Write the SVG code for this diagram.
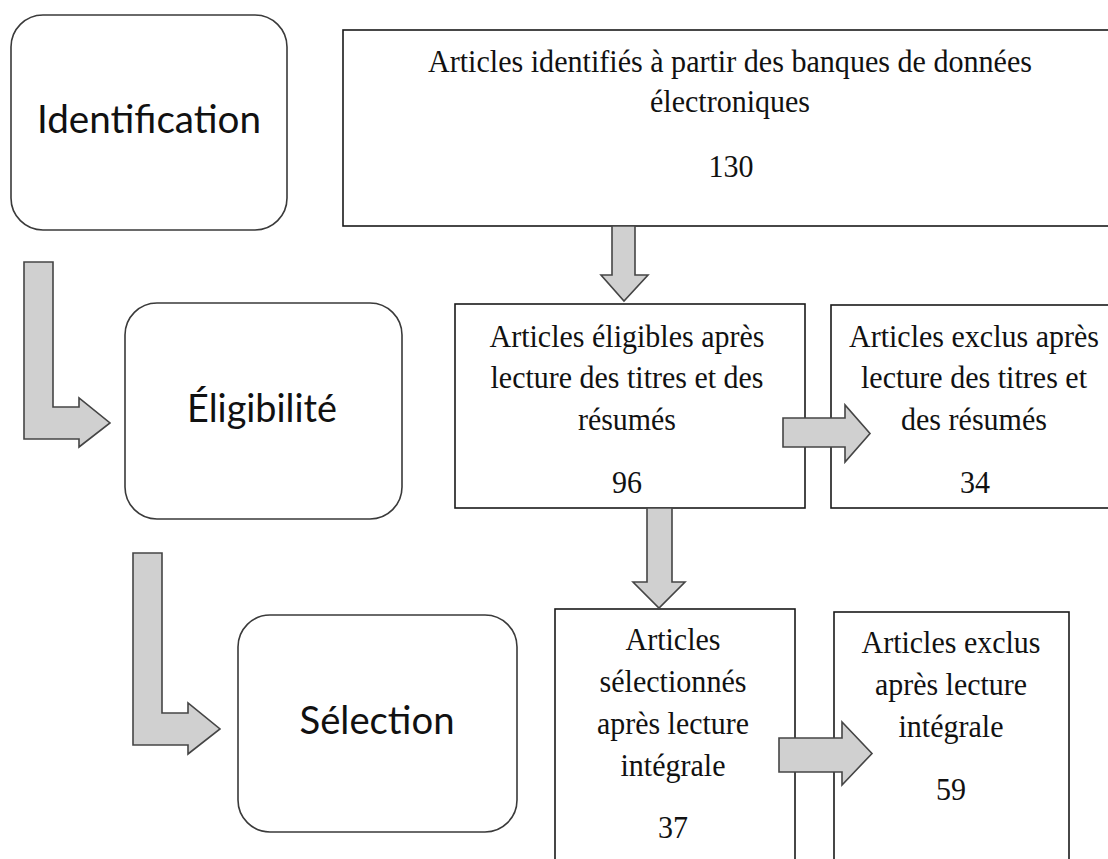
<svg xmlns="http://www.w3.org/2000/svg" width="1108" height="859" viewBox="0 0 1108 859">
<style>
.bg{fill:#ffffff}
.phase{fill:#ffffff;stroke:#3a3a3a;stroke-width:1.6}
.box{fill:#ffffff;stroke:#1a1a1a;stroke-width:1.6}
.arrow{fill:#d0d0d0;stroke:#454545;stroke-width:1.6;stroke-linejoin:miter}
.lbl{font-family:"Lato","Open Sans",sans-serif;font-size:39px;fill:#111111;text-anchor:middle}
.t{font-family:"Liberation Serif","Times New Roman",serif;font-size:32px;fill:#111111;text-anchor:middle}
</style>
<rect class="bg" x="0" y="0" width="1108" height="859"/>

<g id="identification">
  <rect class="phase" x="11" y="15" width="276" height="215" rx="32" ry="32"/>
  <text class="lbl" x="149" y="133" textLength="224" lengthAdjust="spacingAndGlyphs">Identification</text>
</g>

<g id="eligibilite">
  <rect class="phase" x="125" y="303" width="277" height="216" rx="32" ry="32"/>
  <text class="lbl" x="262" y="422" textLength="150" lengthAdjust="spacingAndGlyphs">Éligibilité</text>
</g>

<g id="selection">
  <rect class="phase" x="238" y="615" width="279" height="217" rx="32" ry="32"/>
  <text class="lbl" x="377" y="734" textLength="155" lengthAdjust="spacingAndGlyphs">Sélection</text>
</g>

<g id="identifies">
  <rect class="box" x="343" y="30" width="780" height="196"/>
  <text class="t" x="730" y="72" textLength="604" lengthAdjust="spacingAndGlyphs">Articles identifiés à partir des banques de données</text>
  <text class="t" x="730" y="112" textLength="160" lengthAdjust="spacingAndGlyphs">électroniques</text>
  <text class="t" x="731" y="177" textLength="45" lengthAdjust="spacingAndGlyphs">130</text>
</g>

<g id="eligibles">
  <rect class="box" x="455" y="304" width="350" height="204"/>
  <text class="t" x="627" y="347" textLength="275" lengthAdjust="spacingAndGlyphs">Articles éligibles après</text>
  <text class="t" x="627" y="388" textLength="273" lengthAdjust="spacingAndGlyphs">lecture des titres et des</text>
  <text class="t" x="627" y="430" textLength="98" lengthAdjust="spacingAndGlyphs">résumés</text>
  <text class="t" x="627" y="493" textLength="30" lengthAdjust="spacingAndGlyphs">96</text>
</g>

<g id="exclus1">
  <rect class="box" x="831" y="305" width="290" height="203"/>
  <text class="t" x="974" y="347" textLength="250" lengthAdjust="spacingAndGlyphs">Articles exclus après</text>
  <text class="t" x="974" y="388" textLength="226" lengthAdjust="spacingAndGlyphs">lecture des titres et</text>
  <text class="t" x="974" y="430" textLength="146" lengthAdjust="spacingAndGlyphs">des résumés</text>
  <text class="t" x="975" y="493" textLength="30" lengthAdjust="spacingAndGlyphs">34</text>
</g>

<g id="selectionnes">
  <rect class="box" x="555" y="609" width="240" height="270"/>
  <text class="t" x="673" y="650" textLength="95" lengthAdjust="spacingAndGlyphs">Articles</text>
  <text class="t" x="673" y="692" textLength="147" lengthAdjust="spacingAndGlyphs">sélectionnés</text>
  <text class="t" x="673" y="734" textLength="152" lengthAdjust="spacingAndGlyphs">après lecture</text>
  <text class="t" x="673" y="776" textLength="105" lengthAdjust="spacingAndGlyphs">intégrale</text>
  <text class="t" x="673" y="838" textLength="30" lengthAdjust="spacingAndGlyphs">37</text>
</g>

<g id="exclus2">
  <rect class="box" x="834" y="612" width="235" height="270"/>
  <text class="t" x="951" y="653" textLength="179" lengthAdjust="spacingAndGlyphs">Articles exclus</text>
  <text class="t" x="951" y="695" textLength="152" lengthAdjust="spacingAndGlyphs">après lecture</text>
  <text class="t" x="951" y="737" textLength="105" lengthAdjust="spacingAndGlyphs">intégrale</text>
  <text class="t" x="951" y="800" textLength="30" lengthAdjust="spacingAndGlyphs">59</text>
</g>

<g id="connectors">
  <path class="arrow" d="M612,226 L635,226 L635,275 L648,275 L624,301 L601,275 L612,275 Z"/>
  <path class="arrow" d="M647,508 L672,508 L672,582 L685,582 L659,608 L633,582 L647,582 Z"/>
  <path class="arrow" d="M783,418 L845,418 L845,405 L870,433.5 L845,462 L845,447 L783,447 Z"/>
  <path class="arrow" d="M779,738 L842,738 L842,722 L872,753.5 L842,785 L842,772 L779,772 Z"/>
  <path class="arrow" d="M24,262 L53,262 L53,407 L79,407 L79,398 L110,423 L79,447 L79,439 L24,439 Z"/>
  <path class="arrow" d="M133,553 L162,553 L162,713 L188,713 L188,703 L220,729 L188,754 L188,745 L133,745 Z"/>
</g>
</svg>
